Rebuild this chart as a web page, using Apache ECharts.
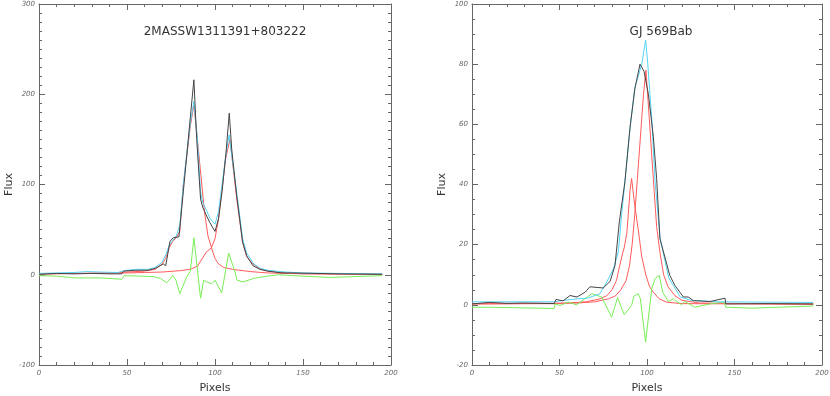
<!DOCTYPE html>
<html>
<head>
<meta charset="utf-8">
<script src="https://cdn.jsdelivr.net/npm/echarts@6/dist/echarts.min.js"></script>
<style>
  html, body { margin: 0; padding: 0; background: #fff; }
  #chart { width: 830px; height: 396px; }
</style>
</head>
<body>
<div id="chart"></div>
<script>
// Left panel: 2MASSW1311391+803222, [pixel, flux] pairs
const leftData = [[0,0.5],[10,1.5],[20,1],[30,1.5],[40,1],[47,1],[48,4],[55,5],[62,5],[66,7],[70.6,12],[72,10],[74.4,37],[76.3,41],[79.5,42],[82,92],[84,133],[86,175],[88,216],[89.6,150],[91.8,84],[93,75],[95.3,65],[97,58],[100,48],[102,62],[104,92],[106.3,136],[108.1,179],[109.5,139],[112.3,88],[115.7,36],[118,21],[121.6,10],[125.4,6],[130,4],[138,2],[144,2],[145,1],[170,1],[195,0.5]];
const leftFit = [[0,1.5],[10,2],[20,2.5],[27,3.5],[35,3],[45,2.5],[48,4.5],[55,6],[62,6],[66,8],[70,14],[72,22],[74,33],[76,38],[78,43],[80,55],[82,100],[84,135],[86,168],[88,192],[90,150],[91.8,92],[93,80],[95.3,71],[97,63],[100,56],[102,70],[104,100],[106,130],[108,155],[110,125],[112.3,92],[115.7,40],[118,24],[122,12],[126,7],[130,5],[140,3],[150,2],[170,1.5],[195,1]];
const leftComp1 = [[0,0.8],[20,1.5],[40,2],[50,3],[60,4],[66,6],[70,12],[72,18],[74,30],[76,37],[78,41],[80,48],[82,100],[84,132],[86,165],[88,188],[90,150],[92,110],[94,70],[96,43],[98,30],[100,18],[102,12],[105,8],[110,6],[120,3.5],[130,2],[150,1],[195,0.5]];
const leftComp2 = [[0,1],[30,1.5],[50,2],[60,2.5],[70,3],[80,4.5],[86,6],[90,9.5],[95,25],[98,30],[100,40],[102,62],[104,95],[106,128],[108.5,150],[110.4,117],[112.3,85],[115.7,36],[118,20],[121.7,11.7],[126,6],[130,4],[140,2],[150,1.2],[195,0.5]];
const leftResid = [[0,-1],[10,-1.5],[20,-3.5],[35,-3.5],[47,-5],[48.5,-1],[57,-1.5],[65,-2],[69,-4],[72.5,-9],[76,-1],[77.8,-6],[80,-21],[84,-2],[86,4],[88,41],[91.8,-26],[93.5,-6],[95.3,-8],[98,-10],[100,-6],[103.8,-20],[107.8,24],[111.4,3],[112.5,-6],[116,-8],[122,-4],[128,-2],[136,0],[144.5,-1],[145,-3],[165,-3],[180,-2],[195,-1]];

// Right panel: GJ 569Bab
const rightData = [[0,0.3],[10,0.8],[20,0.5],[30,0.6],[40,0.5],[47,0.4],[48,1.8],[52,1.3],[56,3.1],[60,2.6],[64.6,4.2],[67.4,6],[75,5.6],[78.9,7.8],[81.7,13],[84.2,27.6],[87.4,41],[90.3,59],[93.1,72],[96,80],[98.3,77.6],[100.8,70],[103.6,56],[105.5,42],[107.4,22],[113,9.8],[116,6.4],[120.8,2.6],[123.6,2.6],[126.5,1.4],[136,1.1],[144.6,2.2],[145,0.3],[170,0.4],[195,0.3]];
const rightFit = [[0,1],[20,1],[47,1],[50,1.3],[60,2],[66,2.2],[73.1,3.7],[77,7.6],[80.8,12],[83.6,17.5],[85.5,30],[87.4,41],[90.3,58.7],[93,72],[97,80],[99.2,88],[100.2,82],[102.7,62],[104.6,41],[107.5,22],[112.4,9],[119,2.6],[125,1.5],[140,1],[195,0.8]];
const rightComp1 = [[0,0.3],[60,0.6],[70,1],[78,2],[82,3],[85,5],[88,8],[90,13],[91.5,20],[93,30],[94.5,42],[97,62],[98,70],[99.4,78],[101.3,62],[103.6,42],[105.5,26],[107.5,17],[109.5,10],[112,6],[116,3],[120,1.5],[130,0.6],[195,0.2]];
const rightComp2 = [[0,0.3],[47,0.4],[55,0.6],[65,1],[72,1.8],[77,3],[80,5],[82.5,8],[84,12],[86,17],[87,19],[88.5,24],[89.3,30],[90.3,38],[91.2,42],[93,33],[95,25],[97,16],[99.4,9.8],[101.5,6],[103.6,4.2],[107,2],[111,0.9],[120,0.4],[195,0.2]];
const rightResid = [[0,-0.8],[10,-0.8],[10.5,-1.2],[47,-1.2],[47.5,0.3],[50.3,-0.2],[55,0.9],[59.8,0],[68.4,3.7],[74.1,2.6],[79.8,-4.1],[83.2,2.4],[87,-3.3],[91.2,-0.2],[92.5,2.9],[95,3.7],[96.2,2],[99.2,-12.4],[102.7,5.3],[104.6,8.7],[107,9.8],[109,4.2],[112.2,1.1],[115,2],[119.8,0],[121.5,1.1],[127.4,-0.8],[136,0.3],[144,0.9],[145,-0.8],[160,-1.1],[195,-0.4]];

const leftTitle = '2MASSW1311391+803222';
const rightTitle = 'GJ 569Bab';

const colors = { data: '#444444', fit: '#55d4f5', comp: '#ff5a5a', resid: '#77ee55' };

const chart = echarts.init(document.getElementById('chart'), null, { renderer: 'canvas' });

const axisColor = '#666';
const labelStyle = { color: '#666', fontSize: 7, fontStyle: 'italic', fontFamily: 'DejaVu Sans' };

function xAxes(gridIndex) {
    const base = {
        type: 'value', gridIndex: gridIndex, min: 0, max: 200, interval: 50,
        axisLine: { show: true, onZero: false, lineStyle: { color: axisColor } },
        axisTick: { show: true, inside: true, length: 6, lineStyle: { color: axisColor, width: 1 } },
        minorTick: { show: true, splitNumber: 5, length: 3, lineStyle: { color: axisColor, width: 1 } },
        splitLine: { show: false }
    };
    return [
        Object.assign({}, base, {
            position: 'bottom',
            name: 'Pixels', nameLocation: 'middle', nameGap: 18,
            nameTextStyle: { color: '#333', fontSize: 11, fontFamily: 'DejaVu Sans', verticalAlign: 'top' },
            axisLabel: Object.assign({ margin: 5 }, labelStyle)
        }),
        Object.assign({}, base, { position: 'top', axisLabel: { show: false } })
    ];
}

function yAxes(gridIndex, min, max, interval, minorSplit) {
    const base = {
        type: 'value', gridIndex: gridIndex, min: min, max: max, interval: interval,
        axisLine: { show: true, onZero: false, lineStyle: { color: axisColor } },
        axisTick: { show: true, inside: true, length: 6, lineStyle: { color: axisColor, width: 1 } },
        minorTick: { show: true, splitNumber: minorSplit, length: 3, lineStyle: { color: axisColor, width: 1 } },
        splitLine: { show: false }
    };
    return [
        Object.assign({}, base, {
            position: 'left',
            name: 'Flux', nameLocation: 'middle', nameGap: 24,
            nameTextStyle: { color: '#333', fontSize: 11, fontFamily: 'DejaVu Sans' },
            axisLabel: Object.assign({ margin: 4 }, labelStyle)
        }),
        Object.assign({}, base, { position: 'right', axisLabel: { show: false } })
    ];
}

function line(data, color, xi, yi) {
    return {
        type: 'line', data: data, xAxisIndex: xi, yAxisIndex: yi,
        showSymbol: false, symbol: 'none', animation: false, silent: true,
        lineStyle: { color: color, width: 1 }
    };
}

const xs = xAxes(0).concat(xAxes(1));
const ys = yAxes(0, -100, 300, 100, 10).concat(yAxes(1, -20, 100, 20, 4));

chart.setOption({
    animation: false,
    title: [
        { text: leftTitle, left: 220, top: 21, textAlign: 'center',
          textStyle: { color: '#333', fontSize: 12, fontWeight: 'normal', fontFamily: 'DejaVu Sans' } },
        { text: rightTitle, left: 656, top: 21, textAlign: 'center',
          textStyle: { color: '#333', fontSize: 12, fontWeight: 'normal', fontFamily: 'DejaVu Sans' } }
    ],
    grid: [
        { left: 39, right: 439, top: 4, bottom: 31, containLabel: false, outerBoundsMode: 'none' },
        { left: 472, right: 8, top: 4, bottom: 31, containLabel: false, outerBoundsMode: 'none' }
    ],
    xAxis: xs,
    yAxis: ys,
    series: [
        line(leftComp1, colors.comp, 0, 0),
        line(leftComp2, colors.comp, 0, 0),
        line(leftResid, colors.resid, 0, 0),
        line(leftFit, colors.fit, 0, 0),
        line(leftData, colors.data, 0, 0),
        line(rightComp1, colors.comp, 2, 2),
        line(rightComp2, colors.comp, 2, 2),
        line(rightResid, colors.resid, 2, 2),
        line(rightFit, colors.fit, 2, 2),
        line(rightData, colors.data, 2, 2)
    ]
});
</script>
</body>
</html>
